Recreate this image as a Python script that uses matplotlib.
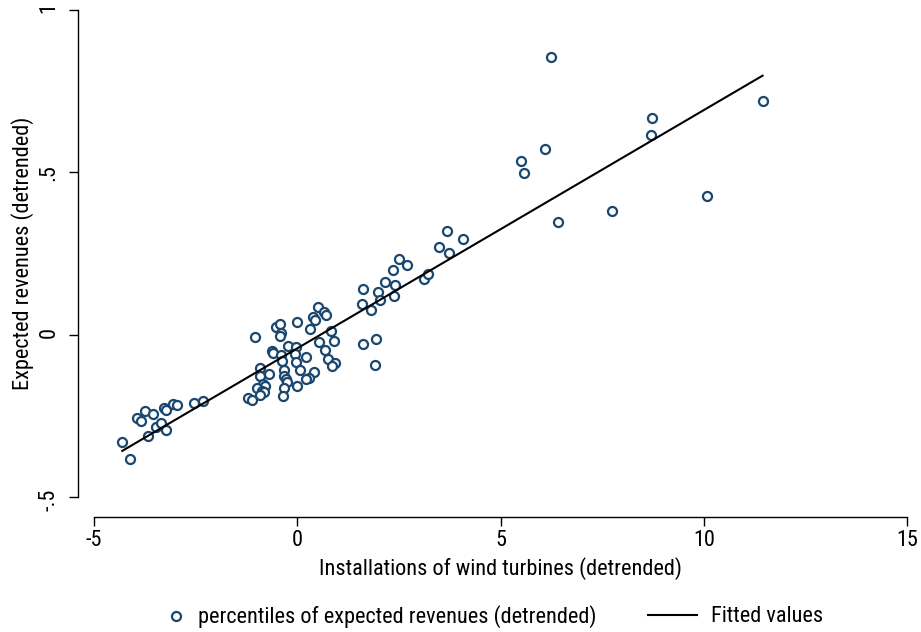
import numpy as np
import matplotlib
matplotlib.use('Agg')
from matplotlib import pyplot as plt

# installations of wind turbines (detrended)
x_inst = [-4.305, -4.125, -3.943, -3.855, -3.739, -3.550, -3.683, -3.486, -3.346, -3.230,
          -3.289, -3.240, -3.068, -2.959, -2.534, -2.320,
          -1.050, -0.517, -0.418, -0.401, -0.418, -0.007, 0.499, 0.386, 0.426, 0.664,
          0.706, 0.303, 0.819, 0.541, 0.903, 0.672, 0.745, 0.935, 0.844, -0.229,
          -0.042, -0.049, -0.615, -0.590, -0.394, -0.376, 0.214, -0.032, 0.066, 0.401,
          0.288, 0.221, -0.918, -0.910, -0.689, -0.327, -0.320, -0.288, -0.253, -0.327,
          -0.344, -0.017, -0.854, -0.804, -0.991, -0.878, -0.829, -0.927, -1.223, -1.114,
          1.606, 1.936, 1.911,
          3.690, 4.066, 3.493, 3.722, 2.492, 2.699, 2.354, 2.165, 2.394, 1.624,
          1.975, 2.034, 2.379, 1.599, 1.820, 3.124, 3.223,
          6.231, 11.447, 8.726, 8.708, 6.101, 5.493, 5.567, 6.421, 7.749, 10.086]

# percentiles of expected revenues (detrended)
y_rev = [-0.330, -0.382, -0.258, -0.266, -0.236, -0.243, -0.311, -0.283, -0.273, -0.294,
         -0.227, -0.231, -0.213, -0.218, -0.209, -0.204,
         -0.006, 0.024, 0.033, 0.005, -0.003, 0.038, 0.085, 0.053, 0.044, 0.070,
         0.061, 0.018, 0.012, -0.024, -0.018, -0.046, -0.074, -0.088, -0.098, -0.034,
         -0.039, -0.059, -0.049, -0.056, -0.062, -0.081, -0.070, -0.083, -0.108, -0.116,
         -0.133, -0.138, -0.102, -0.128, -0.121, -0.110, -0.128, -0.138, -0.147, -0.164,
         -0.188, -0.159, -0.151, -0.157, -0.165, -0.174, -0.176, -0.185, -0.195, -0.200,
         -0.030, -0.013, -0.093,
         0.320, 0.295, 0.271, 0.250, 0.232, 0.215, 0.198, 0.162, 0.152, 0.141,
         0.131, 0.108, 0.120, 0.095, 0.077, 0.171, 0.187,
         0.855, 0.719, 0.667, 0.615, 0.571, 0.536, 0.498, 0.348, 0.381, 0.428]

x_ticks = [-5, 0, 5, 10, 15]
x_ticklabels = ['-5', '0', '5', '10', '15']
y_ticks = [-0.5, 0, 0.5, 1]
y_ticklabels = ['-.5', '0', '.5', '1']

plt.rcParams['font.family'] = ['Roboto Condensed', 'Liberation Sans', 'DejaVu Sans']
navy = '#1a476f'
fs = 16

x = np.array(x_inst)
y = np.array(y_rev)
b, a = np.polyfit(x, y, 1)
xf = np.array([x.min(), x.max()])

fig = plt.figure(figsize=(9.21, 6.32), dpi=100)
ax = fig.add_axes([94/921, 1-497/632, (907-94)/921, (497-10)/632])

pts, = ax.plot(x, y, 'o', ms=6.5, mfc='white', mec=navy, mew=1.6, ls='none')
fit, = ax.plot(xf, a + b*xf, color='black', lw=1.5)

ax.set_xlim(-5, 15)
ax.set_ylim(-0.5, 1)
ax.set_xticks(x_ticks)
ax.set_xticklabels(x_ticklabels)
ax.set_yticks(y_ticks)
ax.set_yticklabels(y_ticklabels, va='center')

for s in ['top', 'right']:
    ax.spines[s].set_visible(False)
ax.spines['left'].set_position(('outward', 11.5))
ax.spines['bottom'].set_position(('outward', 14.4))
ax.spines['left'].set_bounds(-0.5, 1)
ax.spines['bottom'].set_bounds(-5, 15)
ax.spines['left'].set_linewidth(1.0)
ax.spines['bottom'].set_linewidth(1.0)
ax.tick_params(axis='both', length=6.5, width=1.0, labelsize=fs)
ax.tick_params(axis='x', pad=3)
ax.tick_params(axis='y', labelrotation=90, pad=7)

ax.set_xlabel('Installations of wind turbines (detrended)', fontsize=fs, labelpad=4)
ax.set_ylabel('Expected revenues (detrended)', fontsize=fs, labelpad=3)

# two legend entries placed separately (stata style spacing)
ly = 1 - 617/632
leg1 = fig.legend([pts], ['percentiles of expected revenues (detrended)'],
                  loc='center left', bbox_to_anchor=(166/921, ly), frameon=False,
                  fontsize=fs, handlelength=0.9, handletextpad=0.55,
                  borderpad=0, borderaxespad=0)
leg2 = fig.legend([fit], ['Fitted values'],
                  loc='center left', bbox_to_anchor=(648/921, ly), frameon=False,
                  fontsize=fs, handlelength=2.2, handletextpad=0.65,
                  borderpad=0, borderaxespad=0)

fig.savefig('out.png', dpi=100)
